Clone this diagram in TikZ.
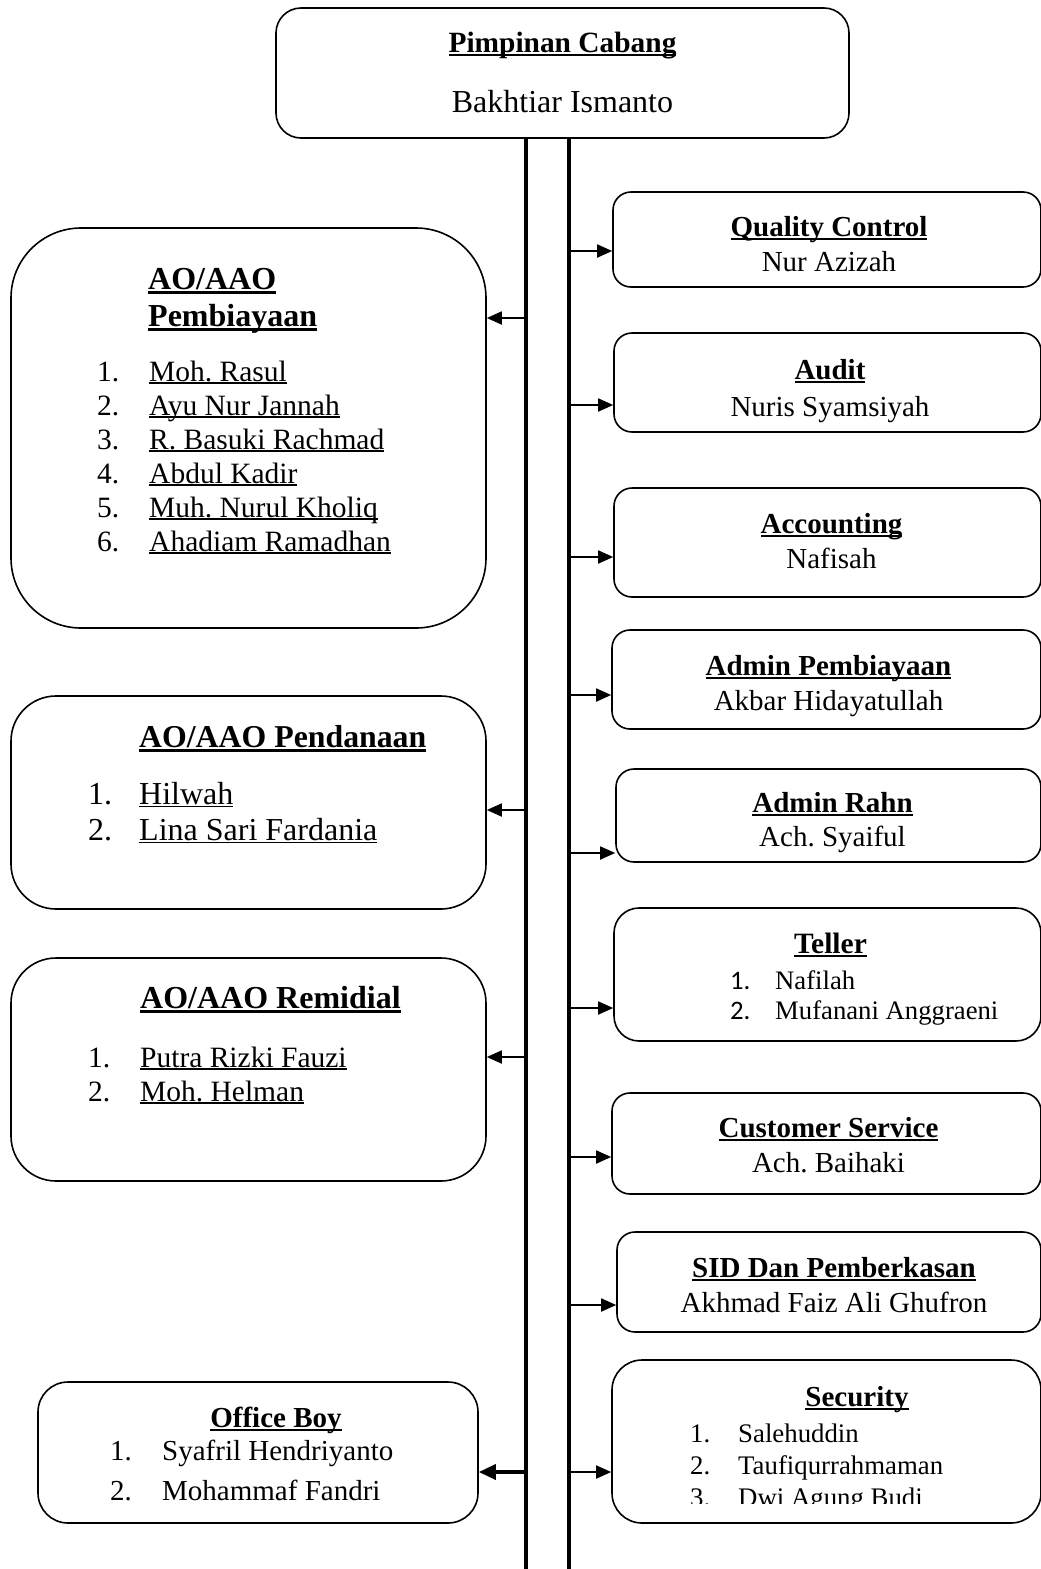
\documentclass[tikz,border=0pt]{standalone}
\usepackage{fontspec}
\setmainfont{Liberation Serif}
\newfontfamily\angka{Carlito}
\usetikzlibrary{arrows.meta, positioning}

\newsavebox{\kotakTeks}
\newcommand{\garisBawah}[1]{\sbox{\kotakTeks}{#1}\rlap{\rule[-0.1em]{\wd\kotakTeks}{0.05em}}\usebox{\kotakTeks}}
\newcommand{\judul}[1]{{\bfseries\sbox{\kotakTeks}{#1}\rlap{\rule[-0.15em]{\wd\kotakTeks}{0.075em}}\usebox{\kotakTeks}}}

\begin{document}
\frenchspacing
\begin{tikzpicture}
	[
	x=1pt, y=-1pt,
        kotak/.style={
            rectangle,
            rounded corners=18pt,
            draw,
            line width=1.6pt,
            inner sep=0pt
        },
        teks/.style={
            inner sep=0pt,
            anchor=base west
        },
        isi/.style={
            inner sep=0pt,
            anchor=base,
            font=\fontsize{29}{35}\selectfont
        },
        garisTegak/.style={
            line width=3.2pt
        },
        panah/.style={
            -{Triangle[length=15pt,width=13pt]},
            line width=1.8pt
        }
    ]
    \useasboundingbox (0,0) rectangle (1041,1569);

    \node(pimpinan) [kotak, rounded corners=25pt, minimum width=573pt, minimum height=130pt] at (562.5,73) {};
    \node(teksPimpinan) [isi, font=\fontsize{32}{60}\selectfont] at (562.5,52) {\begin{tabular}[t]{@{}c@{}}{\fontsize{29.4}{35}\selectfont\judul{Pimpinan Cabang}}\\Bakhtiar Ismanto\end{tabular}};

    % kotak sebelah kanan
    \node(qc) [kotak, minimum width=428pt, minimum height=95pt] at (827,239.5) {};
    \node(audit) [kotak, minimum width=427pt, minimum height=99pt] at (827.5,382.5) {};
    \node(accounting) [kotak, minimum width=427pt, minimum height=109pt] at (827.5,542.5) {};
    \node(adminPembiayaan) [kotak, minimum width=429pt, minimum height=99pt] at (826.5,679.5) {};
    \node(adminRahn) [kotak, minimum width=425pt, minimum height=93pt] at (828.5,815.5) {};
    \node(teller) [kotak, rounded corners=25pt, minimum width=427pt, minimum height=133pt] at (827.5,974.5) {};
    \node(cs) [kotak, minimum width=429pt, minimum height=101pt] at (826.5,1143.5) {};
    \node(sid) [kotak, minimum width=424pt, minimum height=100pt] at (829,1282) {};
    \node(security) [kotak, rounded corners=30pt, minimum width=429pt, minimum height=163pt] at (826.5,1441.5) {};

    \node(teksQC) [isi] at (829,236) {\begin{tabular}[t]{@{}c@{}}\judul{Quality Control}\\Nur Azizah\end{tabular}};
    \node(teksAudit) [isi, font=\fontsize{29}{37}\selectfont] at (830,379) {\begin{tabular}[t]{@{}c@{}}\judul{Audit}\\Nuris Syamsiyah\end{tabular}};
    \node(teksAccounting) [isi] at (831.5,533) {\begin{tabular}[t]{@{}c@{}}\judul{Accounting}\\Nafisah\end{tabular}};
    \node(teksAdminPembiayaan) [isi] at (828.5,675) {\begin{tabular}[t]{@{}c@{}}\judul{Admin Pembiayaan}\\Akbar Hidayatullah\end{tabular}};
    \node(teksAdminRahn) [isi, font=\fontsize{29}{34}\selectfont] at (832.5,812) {\begin{tabular}[t]{@{}c@{}}\judul{Admin Rahn}\\Ach. Syaiful\end{tabular}};
    \node(teksCS) [isi] at (828.5,1137) {\begin{tabular}[t]{@{}c@{}}\judul{Customer Service}\\Ach. Baihaki\end{tabular}};
    \node(teksSID) [isi] at (834,1277) {\begin{tabular}[t]{@{}c@{}}\judul{SID Dan Pemberkasan}\\Akhmad Faiz Ali Ghufron\end{tabular}};

    \node(judulTeller) [teks, anchor=base, font=\fontsize{29.5}{33}\selectfont] at (830.5,953) {\judul{Teller}};
    \node(anggotaTeller) [teks, font=\fontsize{26.7}{30}\selectfont] at (730,989) {\begin{tabular}[t]{@{}p{45pt}@{}l@{}}{\angka 1.} & Nafilah\\{\angka 2.} & Mufanani Anggraeni\end{tabular}};

    \node(judulSecurity) [teks, anchor=base, font=\fontsize{29}{33}\selectfont] at (857,1406) {\judul{Security}};
    \begin{scope}
        \clip (600,1360) rectangle (1041,1503);
        \node(anggotaSecurity) [teks, font=\fontsize{26.8}{32}\selectfont] at (690,1442) {\begin{tabular}[t]{@{}p{48pt}@{}l@{}}1. & Salehuddin\\2. & Taufiqurrahmaman\\3. & Dwi Agung Budi\end{tabular}};
    \end{scope}

    % kotak sebelah kiri
    \node(pembiayaan) [kotak, rounded corners=70pt, minimum width=475pt, minimum height=400pt] at (248.5,428) {};
    \node(pendanaan) [kotak, rounded corners=45pt, minimum width=475pt, minimum height=213pt] at (248.5,802.5) {};
    \node(remidial) [kotak, rounded corners=45pt, minimum width=475pt, minimum height=223pt] at (248.5,1069.5) {};
    \node(officeBoy) [kotak, rounded corners=30pt, minimum width=440pt, minimum height=141pt] at (258,1452.5) {};

    \node(judulPembiayaan) [teks, font=\fontsize{32}{37}\selectfont] at (148,289) {\begin{tabular}[t]{@{}l@{}}\judul{AO/AAO}\\\judul{Pembiayaan}\end{tabular}};
    \node(anggotaPembiayaan) [teks, font=\fontsize{29.5}{34}\selectfont] at (97,381) {\begin{tabular}[t]{@{}p{52pt}@{}l@{}}1. & \garisBawah{Moh. Rasul}\\2. & \garisBawah{Ayu Nur Jannah}\\3. & \garisBawah{R. Basuki Rachmad}\\4. & \garisBawah{Abdul Kadir}\\5. & \garisBawah{Muh. Nurul Kholiq}\\6. & \garisBawah{Ahadiam Ramadhan}\end{tabular}};

    \node(judulPendanaan) [teks, font=\fontsize{31.8}{35}\selectfont] at (139,747) {\judul{AO/AAO Pendanaan}};
    \node(anggotaPendanaan) [teks, font=\fontsize{32}{36}\selectfont] at (88,804) {\begin{tabular}[t]{@{}p{51pt}@{}l@{}}1. & \garisBawah{Hilwah}\\2. & \garisBawah{Lina Sari Fardania}\end{tabular}};

    \node(judulRemidial) [teks, font=\fontsize{32}{35}\selectfont] at (140,1008) {\judul{AO/AAO Remidial}};
    \node(anggotaRemidial) [teks, font=\fontsize{29.5}{34}\selectfont] at (88,1067) {\begin{tabular}[t]{@{}p{52pt}@{}l@{}}1. & \garisBawah{Putra Rizki Fauzi}\\2. & \garisBawah{Moh. Helman}\end{tabular}};

    \node(judulOfficeBoy) [teks, anchor=base, font=\fontsize{29}{33}\selectfont] at (276,1427) {\judul{Office Boy}};
    \node(anggotaOfficeBoy) [teks, font=\fontsize{29}{40}\selectfont] at (110,1460) {\begin{tabular}[t]{@{}p{52pt}@{}l@{}}1. & Syafril Hendriyanto\\2. & Mohammaf Fandri\end{tabular}};

    % garis tegak
    \coordinate(kiriBawah) at (526,1569);
    \coordinate(kananBawah) at (569,1569);
    \draw[garisTegak] (pimpinan.south -| kiriBawah) -- (kiriBawah);
    \draw[garisTegak] (pimpinan.south -| kananBawah) -- (kananBawah);

    % panah ke kanan
    \coordinate(kaQC) at (569,251);
    \coordinate(kaAudit) at (569,405);
    \coordinate(kaAccounting) at (569,557);
    \coordinate(kaAdminPembiayaan) at (569,695);
    \coordinate(kaAdminRahn) at (569,853);
    \coordinate(kaTeller) at (569,1008);
    \coordinate(kaCS) at (569,1157);
    \coordinate(kaSID) at (569,1305);
    \coordinate(kaSecurity) at (569,1472);
    \draw[panah] (kaQC) -- (kaQC -| qc.west);
    \draw[panah] (kaAudit) -- (kaAudit -| audit.west);
    \draw[panah] (kaAccounting) -- (kaAccounting -| accounting.west);
    \draw[panah] (kaAdminPembiayaan) -- (kaAdminPembiayaan -| adminPembiayaan.west);
    \draw[panah] (kaAdminRahn) -- (kaAdminRahn -| adminRahn.west);
    \draw[panah] (kaTeller) -- (kaTeller -| teller.west);
    \draw[panah] (kaCS) -- (kaCS -| cs.west);
    \draw[panah] (kaSID) -- (kaSID -| sid.west);
    \draw[panah] (kaSecurity) -- (kaSecurity -| security.west);

    % panah ke kiri
    \coordinate(kiPembiayaan) at (526,318);
    \coordinate(kiPendanaan) at (526,810);
    \coordinate(kiRemidial) at (526,1057);
    \coordinate(kiOfficeBoy) at (526,1472);
    \draw[panah] (kiPembiayaan) -- (kiPembiayaan -| pembiayaan.east);
    \draw[panah] (kiPendanaan) -- (kiPendanaan -| pendanaan.east);
    \draw[panah] (kiRemidial) -- (kiRemidial -| remidial.east);
    \draw[panah, line width=3.5pt, -{Triangle[length=17pt,width=15pt]}] (kiOfficeBoy) -- (kiOfficeBoy -| officeBoy.east);
\end{tikzpicture}
\end{document}
